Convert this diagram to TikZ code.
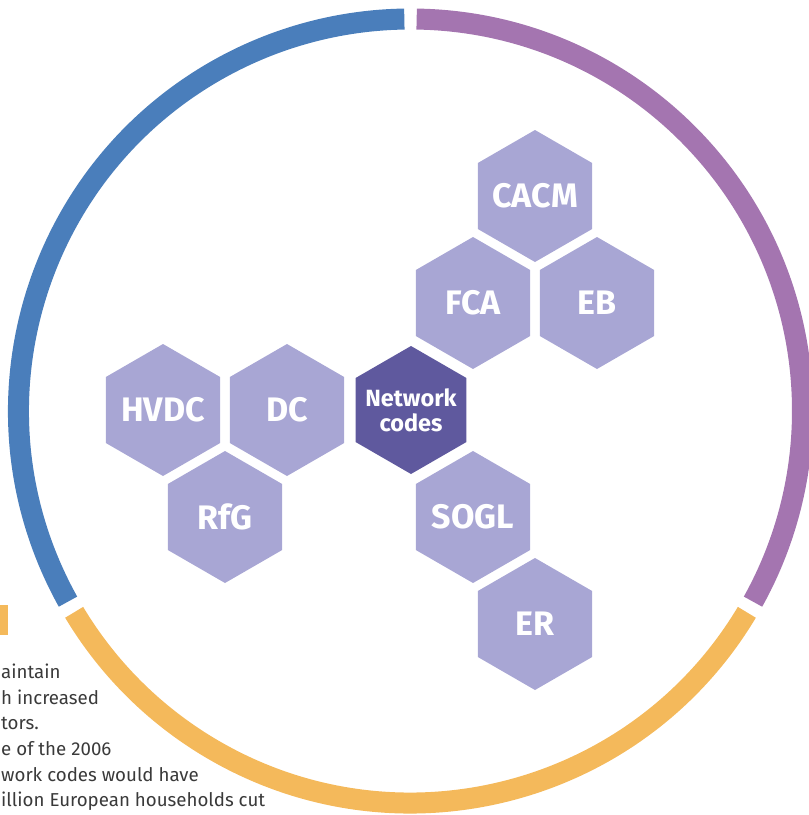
\documentclass[tikz,border=0pt]{standalone}
\usepackage{fontspec}
\setmainfont{Fira Sans}
\usetikzlibrary{shapes.geometric}
\definecolor{ringblue}{HTML}{4A7EBB}
\definecolor{ringpurple}{HTML}{A475B0}
\definecolor{ringyellow}{HTML}{F4B95B}
\definecolor{hexlight}{HTML}{A8A6D4}
\definecolor{hexdark}{HTML}{5F599E}
\definecolor{bodytext}{HTML}{3A3A3A}
\tikzset{
  ring/.style={line width=21pt, line cap=butt},
  hexcell/.style={regular polygon, regular polygon sides=6, shape border rotate=30,
    minimum size=132pt, inner sep=0pt, fill=hexlight},
  hexcore/.style={hexcell, fill=hexdark, minimum size=128pt},
  hexlabel/.style={inner sep=0pt, text=white,
    font=\fontsize{34}{34}\selectfont\bfseries},
  corelabel/.style={inner sep=0pt, text=white, align=center,
    font=\fontsize{23.5}{25}\selectfont\bfseries},
  bodyline/.style={anchor=base west, inner sep=0pt, text=bodytext,
    font=\fontsize{18.7}{20}\selectfont}
}
\begin{document}
\begin{tikzpicture}[x=1pt,y=-1pt]
\useasboundingbox (0,0) rectangle (809,815);
\begin{scope}
\clip (0,0) rectangle (809,815);
\coordinate (ctr) at (410.5,411);
\draw[ring, ringblue] ([shift={(150.9:392)}]ctr) arc[start angle=150.9, end angle=269.1, radius=392];
\draw[ring, ringpurple] ([shift={(-89.1:392)}]ctr) arc[start angle=-89.1, end angle=29.1, radius=392];
\draw[ring, ringyellow] ([shift={(30.9:392)}]ctr) arc[start angle=30.9, end angle=149.1, radius=392];

\node[hexcore] (nc) at (411,410) {};
\node[corelabel] (ncl) at (nc.center) {Network\\codes};
\node[hexcell] (hvdc) at (163,410) {};
\node[hexlabel] (hvdcl) at (hvdc.center) {HVDC};
\node[hexcell] (dc) at (287,410) {};
\node[hexlabel] (dcl) at (dc.center) {DC};
\node[hexcell] (rfg) at (225,517) {};
\node[hexlabel] (rfgl) at (rfg.center) {RfG};
\node[hexcell] (sogl) at (473,517) {};
\node[hexlabel] (sogll) at (sogl.center) {SOGL};
\node[hexcell] (er) at (535,624) {};
\node[hexlabel] (erl) at (er.center) {ER};
\node[hexcell] (fca) at (473,303) {};
\node[hexlabel] (fcal) at (fca.center) {FCA};
\node[hexcell] (eb) at (597,303) {};
\node[hexlabel] (ebl) at (eb.center) {EB};
\node[hexcell] (cacm) at (535,196) {};
\node[hexlabel] (cacml) at (cacm.center) {CACM};

\fill[ringyellow] (0,605) rectangle (8,635);
\node[bodyline] (t1) at (1,678) {aintain};
\node[bodyline] (t2) at (1,704) {h increased};
\node[bodyline] (t3) at (1,729) {tors.};
\node[bodyline] (t4) at (1,755) {e of the 2006};
\node[bodyline] (t5) at (1,781) {work codes would have};
\node[bodyline] (t6) at (1,806) {illion European households cut};
\end{scope}
\end{tikzpicture}
\end{document}
